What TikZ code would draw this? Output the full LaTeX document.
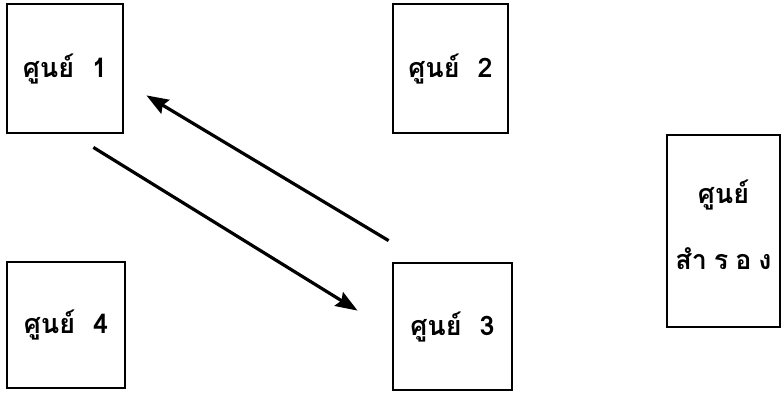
\documentclass[tikz,border=0pt]{standalone}
\usepackage{fontspec}
\newfontfamily\thaifont[Script=Thai]{Loma}
\usetikzlibrary{arrows.meta}
\tikzset{
  centre/.style={draw=black, line width=2.8bp, fill=white, inner sep=0pt,
    font=\thaifont\bfseries\fontsize{27}{34}\selectfont, align=center},
  flow/.style={line width=3.2bp, -{Stealth[length=22bp,width=16bp,inset=3bp]}}
}
\begin{document}
\begin{tikzpicture}[x=1bp,y=-1bp]
\useasboundingbox (0,0) rectangle (783,395);
\node[centre, minimum width=116bp, minimum height=129bp] (b1) at (65,68.5) {ศูนย์~~1};
\node[centre, minimum width=115bp, minimum height=129bp] (b2) at (450.5,68.5) {ศูนย์~~2};
\node[centre, minimum width=119bp, minimum height=127bp] (b3) at (452.5,326.5) {ศูนย์~~3};
\node[centre, minimum width=118bp, minimum height=126bp] (b4) at (66,325) {ศูนย์~~4};
\node[centre, minimum width=113bp, minimum height=192bp] (b5) at (723.5,231) {};
\node[inner sep=0pt, align=center, anchor=center, font=\thaifont\bfseries\fontsize{27}{66}\selectfont]
  (b5t) at ([shift={(0,-6)}]b5.center) {ศูนย์\\สำ\kern7bp ร\kern7bp อ\kern7bp ง};
\coordinate (u1) at ([shift={(-3,-21)}]b3.north west);
\coordinate (u2) at ([shift={(22,-39)}]b1.south east);
\coordinate (l1) at ([shift={(-31,13)}]b1.south east);
\coordinate (l2) at ([shift={(-34,49)}]b3.north west);
\draw[flow] (u1) -- (u2);
\draw[flow] (l1) -- (l2);
\end{tikzpicture}
\end{document}
